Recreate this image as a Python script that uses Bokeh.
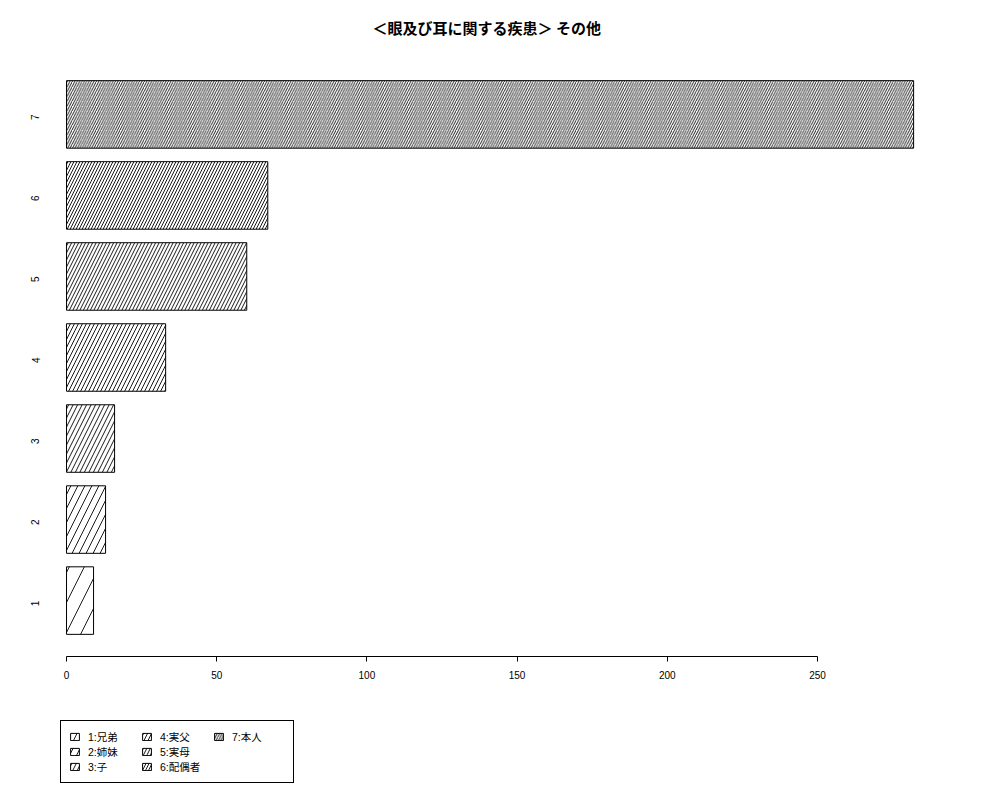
import math
from bokeh.plotting import figure
from bokeh.layouts import column
from bokeh.models import ColumnDataSource, FactorRange, FixedTicker, Legend, LegendItem, Label
from bokeh.embed import file_html
from bokeh.resources import INLINE

# ---- data ----
categories = ["1", "2", "3", "4", "5", "6", "7"]
values = [9, 13, 16, 33, 60, 67, 282]
legend_labels = ["1:兄弟", "2:姉妹", "3:子", "4:実父", "5:実母", "6:配偶者", "7:本人"]
x_ticks = [0, 50, 100, 150, 200, 250]
title_text = "＜眼及び耳に関する疾患＞ その他"

# ---- styles ----
hatch_scales = [30, 14, 9, 8, 7, 6, 4.8]
JP = "Noto Sans CJK JP"
NUM = "Liberation Sans"
W = 984

vmax = max(values)

# ---- title strip ----
p0 = figure(width=W, height=58, x_range=(0, 1), y_range=(0, 1),
            x_axis_type=None, y_axis_type=None,
            output_backend="svg", toolbar_location=None,
            min_border_left=0, min_border_right=0, min_border_top=0, min_border_bottom=0)
p0.outline_line_color = None
p0.add_layout(Label(x=328, y=31, x_units="screen", y_units="screen", text=title_text,
                    text_align="left", text_baseline="middle",
                    text_font=JP, text_font_style="bold", text_font_size="15px",
                    text_color="black"))

# ---- main chart ----
p = figure(
    width=W, height=642,
    y_range=FactorRange(factors=categories, range_padding=0.19, range_padding_units="absolute"),
    x_range=(-0.026 * vmax, 1.04 * vmax),
    output_backend="svg", toolbar_location=None,
    min_border_left=44, min_border_right=37, min_border_top=0, min_border_bottom=44,
)

src = ColumnDataSource(dict(cat=categories, val=values, hs=hatch_scales, lab=legend_labels))
bar_style = dict(fill_color="white", line_color="black", line_width=1,
                 hatch_pattern="/", hatch_scale="hs", hatch_color="black", hatch_weight=0.9)
r = p.hbar(y="cat", left=0, right="val", height=1 / 1.2, source=src, **bar_style)

p.xgrid.visible = False
p.ygrid.visible = False
p.outline_line_color = None
p.background_fill_color = "white"

xa = p.xaxis[0]
xa.ticker = FixedTicker(ticks=x_ticks)
xa.bounds = (x_ticks[0], x_ticks[-1])
xa.minor_tick_line_color = None
xa.major_tick_in = 0
xa.major_tick_out = 5
xa.axis_line_color = "black"
xa.major_tick_line_color = "black"
xa.major_label_text_font = NUM
xa.major_label_text_font_size = "10px"
xa.major_label_text_color = "black"
xa.major_label_standoff = 9

ya = p.yaxis[0]
ya.axis_line_color = None
ya.major_tick_line_color = None
ya.minor_tick_line_color = None
ya.major_label_orientation = math.pi / 2
ya.major_label_text_font = NUM
ya.major_label_text_font_size = "10px"
ya.major_label_text_color = "black"
ya.major_label_standoff = 3

# ---- legend strip below the chart ----
p2 = figure(
    width=W, height=84,
    y_range=FactorRange(factors=categories), x_range=(-2 * vmax, -vmax),
    x_axis_type=None, y_axis_type=None,
    output_backend="svg", toolbar_location=None,
    min_border_left=0, min_border_right=0, min_border_top=0, min_border_bottom=0,
)
p2.outline_line_color = None
r2 = p2.hbar(y="cat", left=0, right="val", height=1 / 1.2, source=src, **bar_style)
r2.visible = False

items = [LegendItem(label=legend_labels[i], renderers=[r2], index=i) for i in range(len(categories))]
legend = Legend(items=items, location=(16, 1), nrows=3, orientation="vertical",
                glyph_width=11, glyph_height=9, label_standoff=8, label_width=53, label_height=9,
                spacing=-3, padding=8, margin=0,
                label_text_font="Liberation Sans, Noto Sans CJK JP", label_text_font_size="10.5px",
                label_text_line_height=0.9,
                label_text_color="black",
                inactive_fill_alpha=0,
                border_line_color="black", border_line_width=1, border_line_alpha=1,
                background_fill_color="white", background_fill_alpha=1)
p2.add_layout(legend, "center")

layout = column(p0, p, p2, spacing=0)
open("out.html", "w").write(file_html(layout, INLINE))
